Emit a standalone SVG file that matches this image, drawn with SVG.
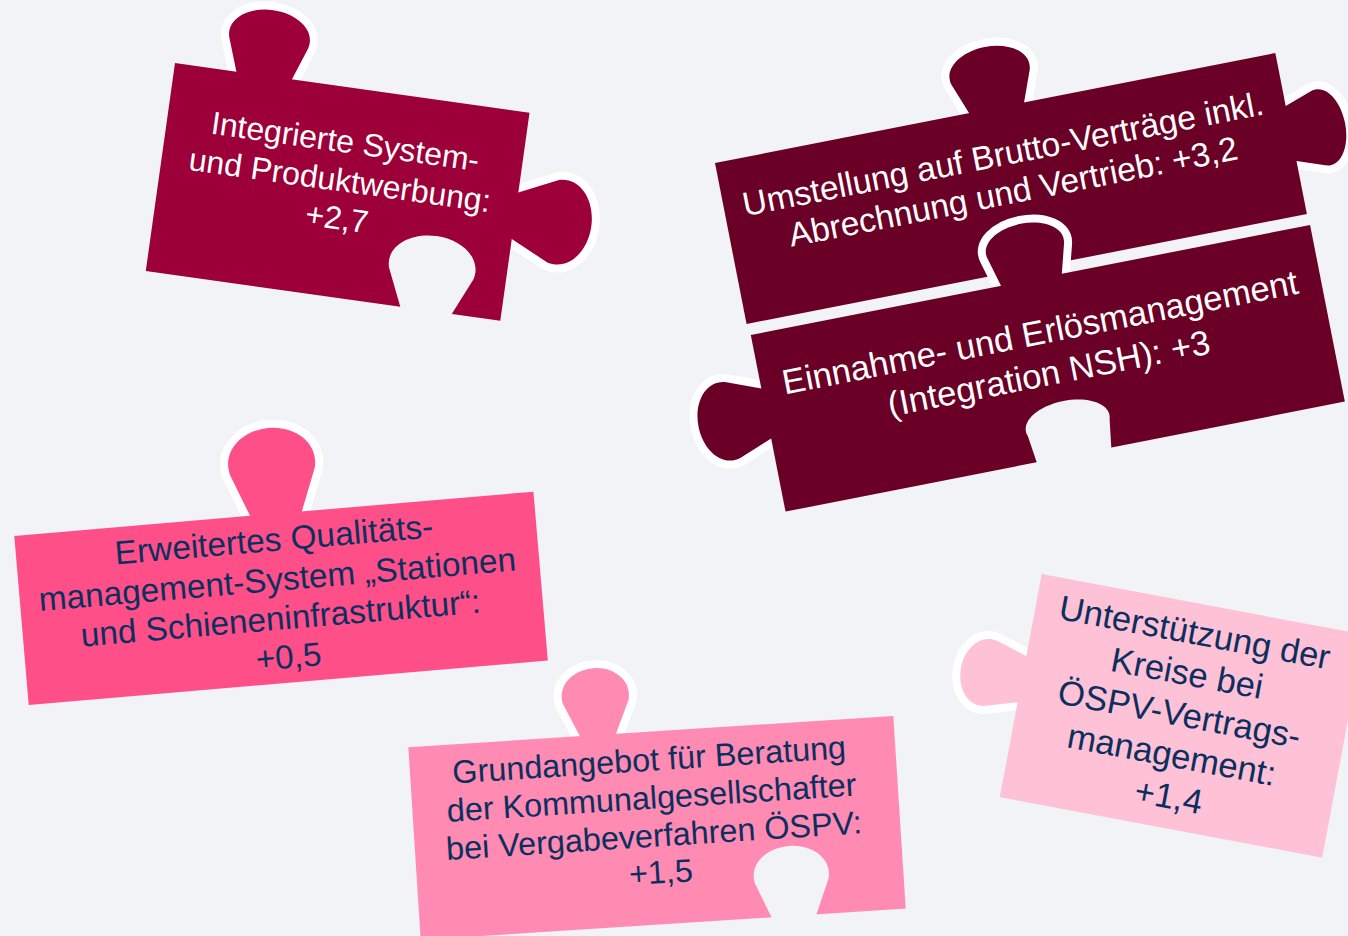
<svg xmlns="http://www.w3.org/2000/svg" width="1348" height="936" viewBox="0 0 1348 936">
<style>
  text { font-family: "Liberation Sans", Arial, sans-serif; text-anchor: middle; }
  .knob { stroke: #ffffff; stroke-width: 16; stroke-linejoin: round; paint-order: stroke; }
  .hole { fill: #f2f3f7; }
  .c1 { fill: #9d0038; }
  .c2 { fill: #6b0026; }
  .c3 { fill: #ff4f88; }
  .c4 { fill: #ff8ab2; }
  .c5 { fill: #ffc1d6; }
  .tw { fill: #ffffff; }
  .tn { fill: #0b2f5e; }
</style>
<rect width="1348" height="936" fill="#f2f3f7"/>

<g id="piece-werbung" transform="translate(175,63) rotate(8)">
  <path class="knob c1" transform="translate(90,0)" d="M -28,14 L -28,0 L -39.8,-33 C -45.1,-51.5 -24.6,-66 0,-66 C 24.6,-66 45.1,-51.5 39.8,-33 L 28,0 L 28,14 Z"/>
  <path class="knob c1" transform="translate(358,104) rotate(90)" d="M -23.5,14 L -23.5,0 L -41.7,-38.5 C -47.3,-60.1 -25.8,-77 0,-77 C 25.8,-77 47.3,-60.1 41.7,-38.5 L 23.5,0 L 23.5,14 Z"/>
  <rect class="c1" width="358" height="210"/>
  <path class="hole" transform="translate(283,210)" d="M -26,14 L -26,0 L -42.7,-37.5 C -48.4,-58.5 -26.4,-75 0,-75 C 26.4,-75 48.4,-58.5 42.7,-37.5 L 26,0 L 26,14 Z"/>
  <text class="tw" font-size="32">
    <tspan x="184" y="65">Integrierte System-</tspan>
    <tspan x="184" y="104">und Produktwerbung:</tspan>
    <tspan x="182" y="142">+2,7</tspan>
  </text>
</g>

<g id="piece-brutto" transform="translate(715,163) rotate(-11.1)">
  <path class="knob c2" transform="translate(287,0)" d="M -28,14 L -28,0 L -39.8,-31 C -45.1,-48.4 -24.6,-62 0,-62 C 24.6,-62 45.1,-48.4 39.8,-31 L 28,0 L 28,14 Z"/>
  <path class="knob c2" transform="translate(571,82) rotate(90)" d="M -28,14 L -28,0 L -37.8,-27.5 C -42.9,-42.9 -23.4,-55 0,-55 C 23.4,-55 42.9,-42.9 37.8,-27.5 L 28,0 L 28,14 Z"/>
  <rect class="c2" width="571" height="164"/>
  <text class="tw" font-size="33.6">
    <tspan x="289" y="58">Umstellung auf Brutto-Verträge inkl.</tspan>
    <tspan x="287" y="97">Abrechnung und Vertrieb: +3,2</tspan>
  </text>
</g>

<g id="piece-erloes" transform="translate(750.8,335) rotate(-11.13)">
  <path class="knob c2" transform="translate(286,0)" d="M -31,14 L -31,0 L -38.8,-28.5 C -44,-44.5 -24,-57 0,-57 C 24,-57 44,-44.5 38.8,-28.5 L 31,0 L 31,14 Z"/>
  <path class="knob c2" transform="translate(0,80) rotate(-90)" d="M -25.5,14 L -25.5,0 L -38.8,-34.5 C -44,-53.8 -24,-69 0,-69 C 24,-69 44,-53.8 38.8,-34.5 L 25.5,0 L 25.5,14 Z"/>
  <rect class="c2" width="570" height="180"/>
  <path class="hole" transform="translate(294,180)" d="M -38,14 L -38,0 L -41.7,-27.5 C -47.3,-42.9 -25.8,-55 0,-55 C 25.8,-55 47.3,-42.9 41.7,-27.5 L 38,0 L 38,14 Z"/>
  <text class="tw" font-size="34.6">
    <tspan x="289" y="65">Einnahme- und Erlösmanagement</tspan>
    <tspan x="285" y="107">(Integration NSH): +3</tspan>
  </text>
</g>

<g id="piece-qualitaet" transform="translate(14.3,536) rotate(-4.88)">
  <path class="knob c3" transform="translate(262.6,0)" d="M -26,14 L -26,0 L -42.7,-43 C -48.4,-67.1 -26.4,-86 0,-86 C 26.4,-86 48.4,-67.1 42.7,-43 L 26,0 L 26,14 Z"/>
  <rect class="c3" width="521" height="169.5"/>
  <text class="tn" font-size="33.4">
    <tspan x="263" y="37">Erweitertes Qualitäts-</tspan>
    <tspan x="263" y="77">management-System „Stationen</tspan>
    <tspan x="263" y="116">und Schieneninfrastruktur“:</tspan>
    <tspan x="263" y="155">+0,5</tspan>
  </text>
</g>

<g id="piece-beratung" transform="translate(408.3,747.3) rotate(-3.69)">
  <path class="knob c4" transform="translate(190,0)" d="M -18,14 L -18,0 L -33,-33.5 C -37.4,-52.3 -20.4,-67 0,-67 C 20.4,-67 37.4,-52.3 33,-33.5 L 18,0 L 18,14 Z"/>
  <rect class="c4" width="486" height="193"/>
  <path class="hole" transform="translate(374,193)" d="M -22.5,14 L -22.5,0 L -36.9,-35 C -41.8,-54.6 -22.8,-70 0,-70 C 22.8,-70 41.8,-54.6 36.9,-35 L 22.5,0 L 22.5,14 Z"/>
  <text class="tn" font-size="32.4">
    <tspan x="244" y="39">Grundangebot für Beratung</tspan>
    <tspan x="244" y="77">der Kommunalgesellschafter</tspan>
    <tspan x="244" y="115">bei Vergabeverfahren ÖSPV:</tspan>
    <tspan x="244" y="152">+1,5</tspan>
  </text>
</g>

<g id="piece-kreise" transform="translate(1041.7,574) rotate(10.64)">
  <path class="knob c5" transform="translate(0,107) rotate(-90)" d="M -23.5,14 L -23.5,0 L -33,-31 C -37.4,-48.4 -20.4,-62 0,-62 C 20.4,-62 37.4,-48.4 33,-31 L 23.5,0 L 23.5,14 Z"/>
  <rect class="c5" width="328" height="227"/>
  <text class="tn" font-size="34.6">
    <tspan x="166" y="41">Unterstützung der</tspan>
    <tspan x="166" y="82.5">Kreise bei</tspan>
    <tspan x="166" y="124">ÖSPV-Vertrags-</tspan>
    <tspan x="166" y="165.5">management:</tspan>
    <tspan x="166" y="207">+1,4</tspan>
  </text>
</g>
</svg>
